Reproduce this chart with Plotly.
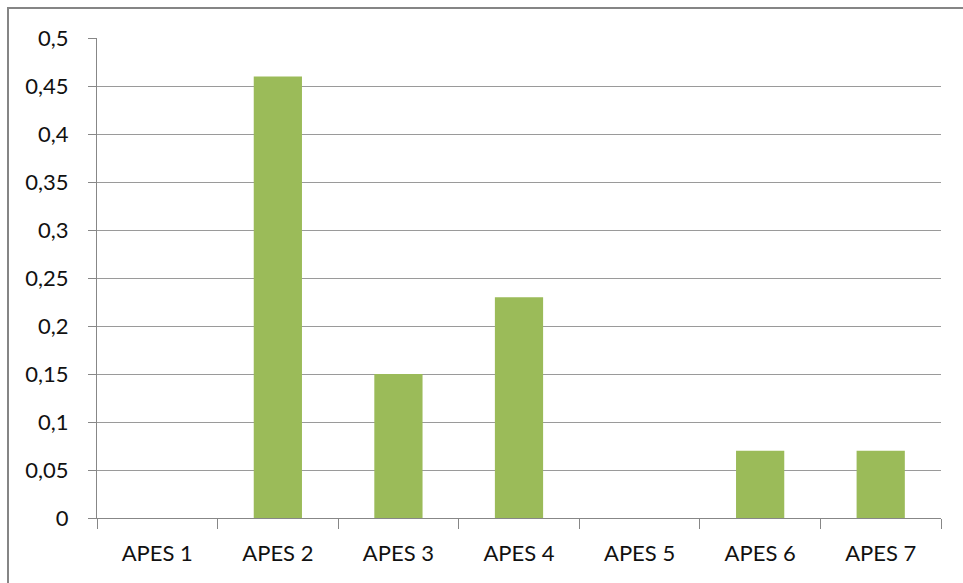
import plotly.graph_objects as go

# Chart data
categories = ["APES 1", "APES 2", "APES 3", "APES 4", "APES 5", "APES 6", "APES 7"]
values = [0, 0.46, 0.15, 0.23, 0, 0.07, 0.07]
y_tick_values = [0, 0.05, 0.1, 0.15, 0.2, 0.25, 0.3, 0.35, 0.4, 0.45, 0.5]
y_tick_labels = ["0", "0,05", "0,1", "0,15", "0,2", "0,25", "0,3", "0,35", "0,4", "0,45", "0,5"]

W, H = 963, 583
ML, MR, MT, MB = 97, 22, 38, 65
pw, ph = W - ML - MR, H - MT - MB

fig = go.Figure(
    go.Bar(
        x=categories,
        y=values,
        marker=dict(color="#9BBB59", line=dict(width=0)),
        width=0.4,
    )
)

axis_color = "#878787"
font = dict(family="Lato, 'Open Sans', sans-serif", size=22, color="#111111")

fig.update_layout(
    width=W,
    height=H,
    margin=dict(l=ML, r=MR, t=MT, b=MB),
    paper_bgcolor="white",
    plot_bgcolor="white",
    font=font,
    showlegend=False,
    bargap=0.6,
    xaxis=dict(
        type="category",
        showline=True,
        linecolor=axis_color,
        linewidth=1,
        ticks="outside",
        tickson="boundaries",
        ticklen=10,
        tickcolor=axis_color,
        showgrid=False,
        tickfont=font,
        ticklabelstandoff=16,
        fixedrange=True,
    ),
    yaxis=dict(
        range=[0, 0.5],
        tickvals=y_tick_values,
        ticktext=y_tick_labels,
        showline=True,
        linecolor=axis_color,
        linewidth=1,
        ticks="outside",
        ticklen=8,
        tickcolor=axis_color,
        showgrid=True,
        gridcolor="#9A9A9A",
        gridwidth=1,
        zeroline=False,
        tickfont=font,
        ticklabelstandoff=15,
        fixedrange=True,
    ),
    shapes=[
        # outer chart frame
        dict(
            type="rect",
            xref="paper",
            yref="paper",
            x0=(8 - ML) / pw,
            x1=(W + 10 - ML) / pw,
            y0=-(MB + 10) / ph,
            y1=1 + (MT - 8) / ph,
            line=dict(color="#858585", width=2),
            fillcolor="rgba(0,0,0,0)",
            layer="below",
        )
    ],
)

fig.write_html("out.html")
